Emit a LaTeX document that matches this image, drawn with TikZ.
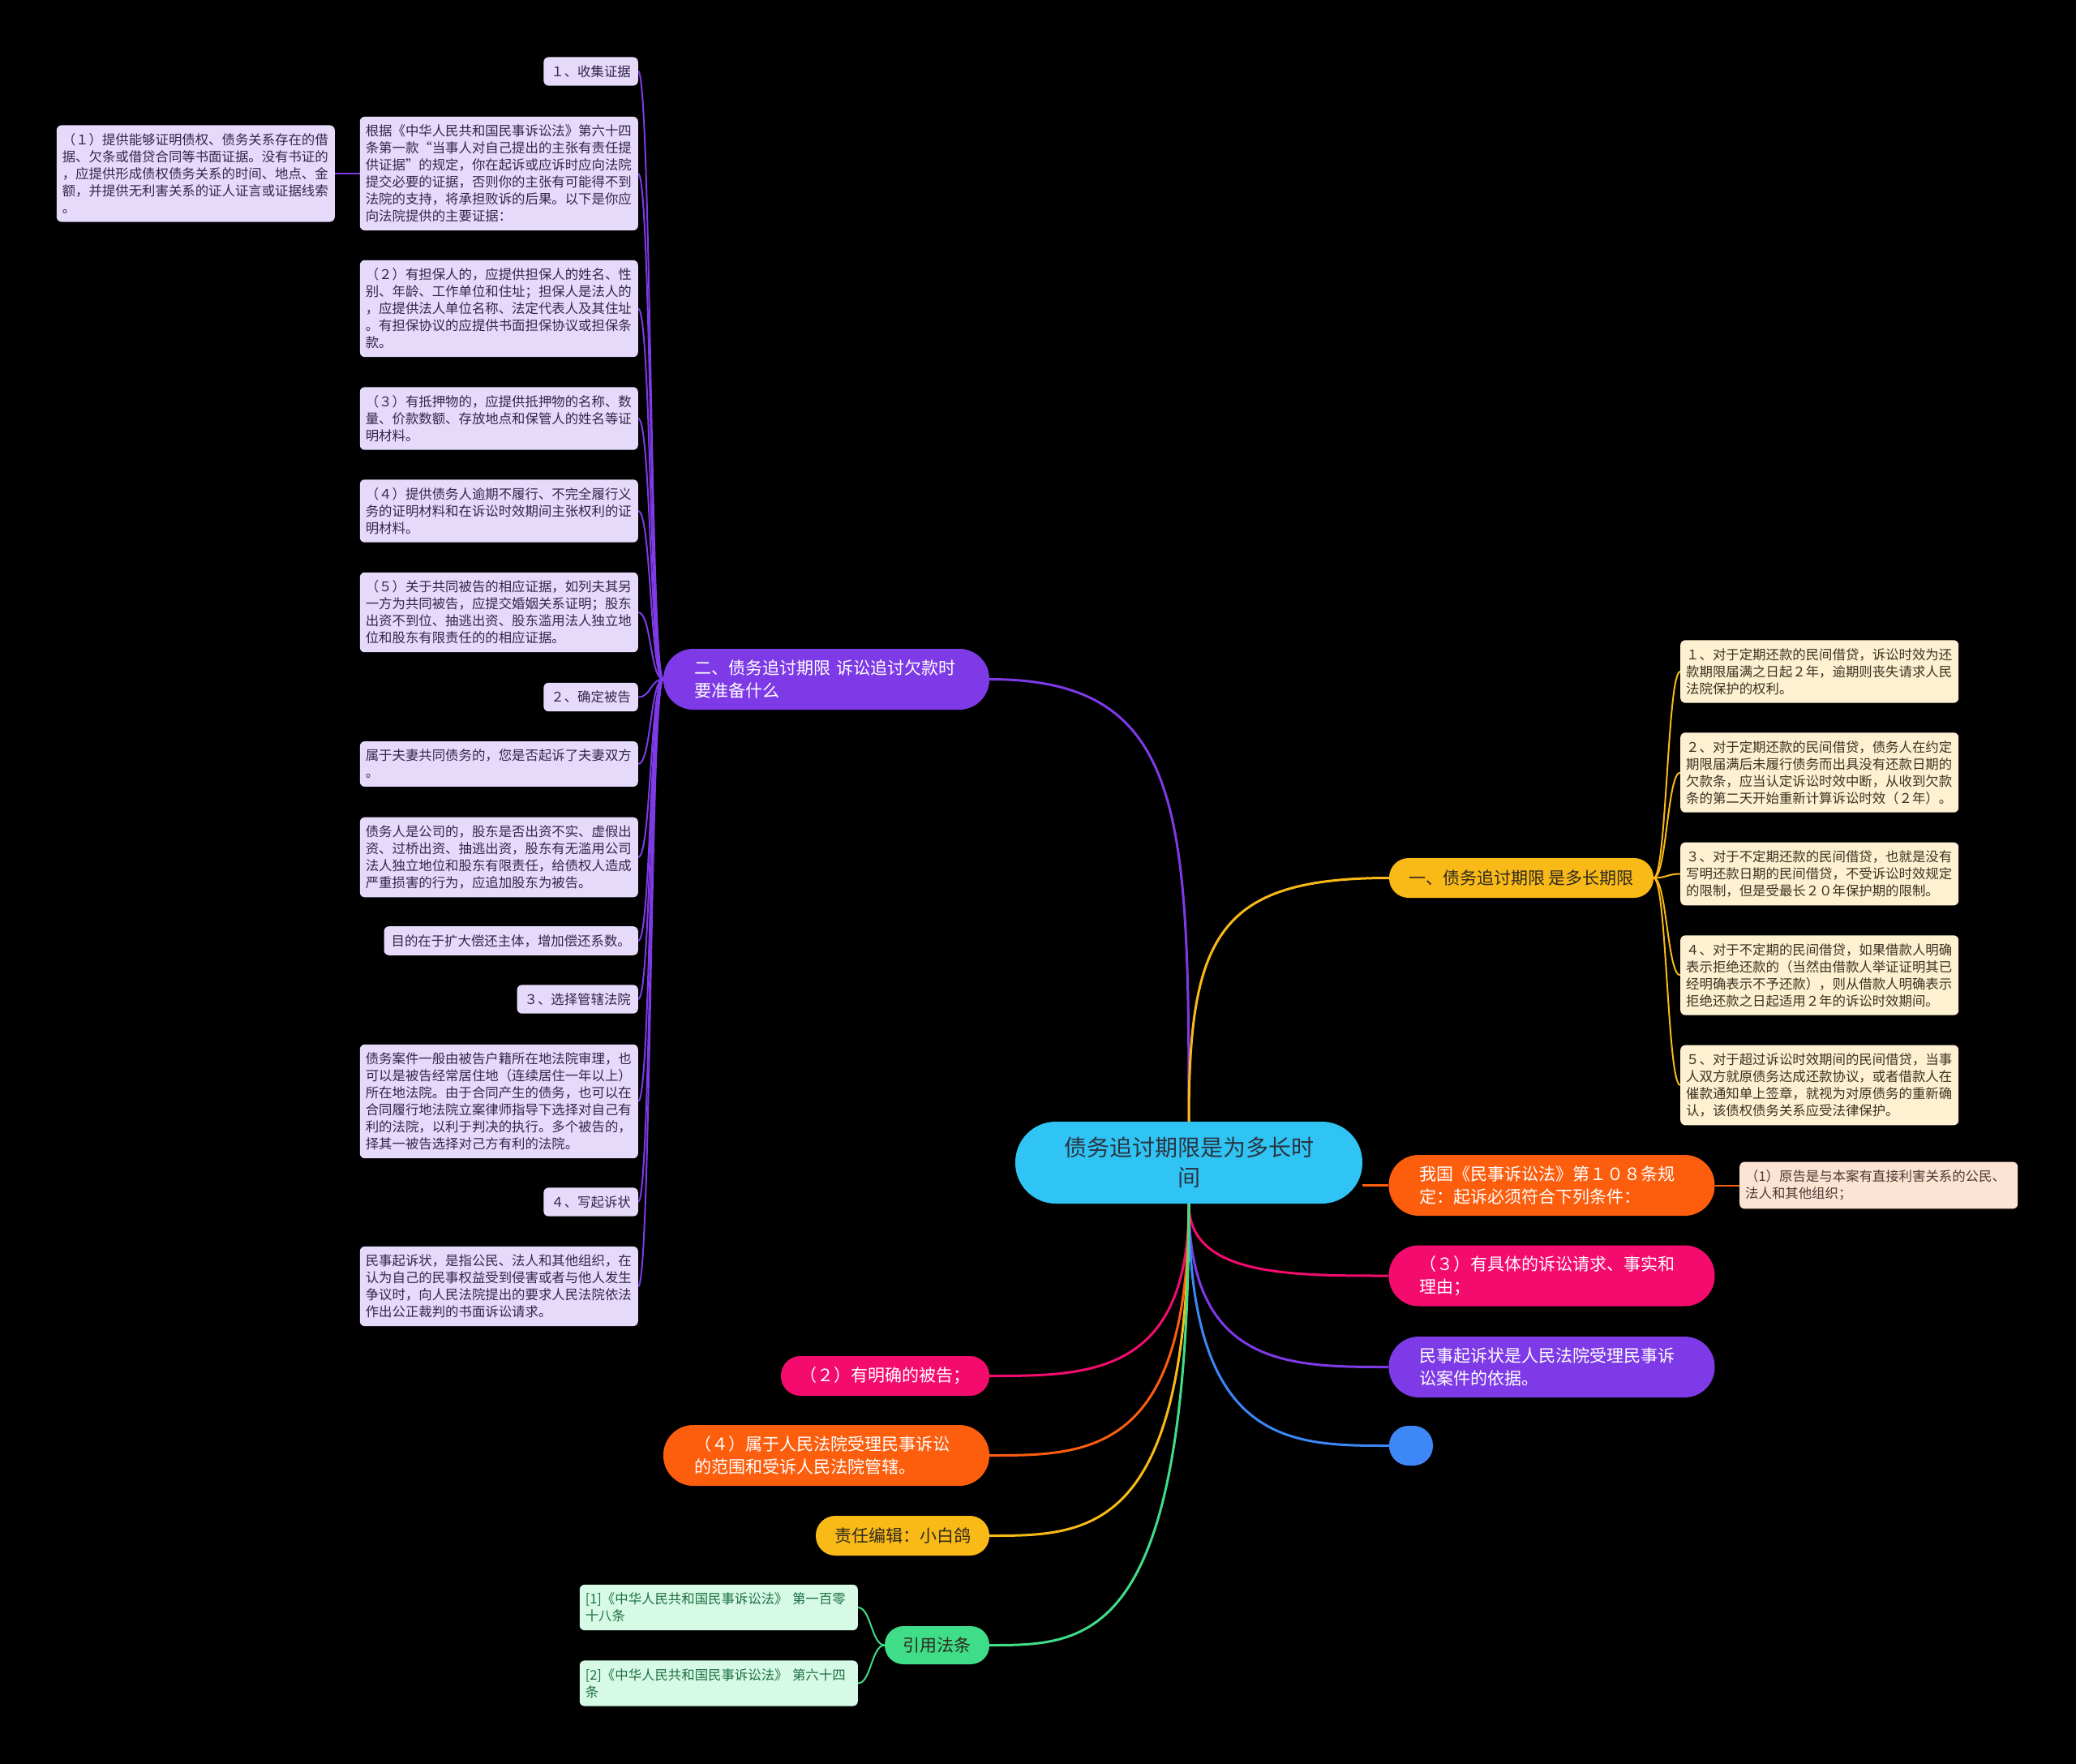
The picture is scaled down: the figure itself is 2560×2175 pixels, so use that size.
\documentclass[tikz,border=0pt]{standalone}
\usepackage{fontspec}
\setmainfont{Noto Sans CJK SC}
\usetikzlibrary{backgrounds}
\definecolor{cyanc}{HTML}{30C4F4}
\definecolor{centertext}{HTML}{2A3440}
\definecolor{purc}{HTML}{7E3AE6}
\definecolor{purleaf}{HTML}{E6DAFB}
\definecolor{purtext}{HTML}{33264A}
\definecolor{yelc}{HTML}{F9B917}
\definecolor{yelleaf}{HTML}{FDF1D2}
\definecolor{yeltext}{HTML}{3C3220}
\definecolor{orac}{HTML}{FC5E0E}
\definecolor{peach}{HTML}{FDE3D3}
\definecolor{peachtext}{HTML}{4A3A34}
\definecolor{pinkc}{HTML}{F40B6E}
\definecolor{bluec}{HTML}{3D87F6}
\definecolor{greenc}{HTML}{40DD88}
\definecolor{greenleaf}{HTML}{D6FAE6}
\definecolor{greentext}{HTML}{1F6F45}
\definecolor{darktext}{HTML}{2E2A20}
\tikzset{
  branch/.style={inner sep=0pt, minimum height=75pt, rounded corners=37pt, font=\fontsize{21pt}{28pt}\selectfont},
  widebranch/.style={branch, minimum width=402pt, text width=326pt, align=left},
  smallbranch/.style={branch, minimum height=49pt, rounded corners=24pt, align=center},
  leaf/.style={rounded corners=6pt, inner xsep=7pt, inner ysep=10pt, font=\fontsize{16.4pt}{21pt}\selectfont, align=left, text width=329pt},
  shortleaf/.style={rounded corners=6pt, inner xsep=9pt, inner ysep=10pt, font=\fontsize{16.4pt}{21pt}\selectfont},
  pleaf/.style={leaf, fill=purleaf, text=purtext, anchor=east},
  pshort/.style={shortleaf, fill=purleaf, text=purtext, anchor=east},
  yleaf/.style={leaf, fill=yelleaf, text=yeltext, anchor=west},
  gleaf/.style={leaf, fill=greenleaf, text=greentext, anchor=east},
  mainline/.style={line width=3pt},
  subline/.style={line width=2pt},
}
\begin{document}
\begin{tikzpicture}[x=1pt,y=-1pt]
\useasboundingbox (0,0) rectangle (2560,2175);

% central topic
\node[fill=cyanc, rounded corners=50pt, minimum width=428pt, minimum height=101pt, inner sep=0pt, align=center, text=centertext, font=\fontsize{28pt}{37pt}\selectfont] (c) at (1466,1433.5) {债务追讨期限是为多长时\\间};

% main branches
\node[widebranch, fill=purc, text=white] (b2) at (1019,837.5) {二、债务追讨期限 诉讼追讨欠款时\\要准备什么};
\node[smallbranch, fill=yelc, text=darktext, minimum width=326pt] (b1) at (1876,1082.5) {一、债务追讨期限 是多长期限};
\node[widebranch, fill=orac, text=white] (b3) at (1913.5,1461.5) {我国《民事诉讼法》第１０８条规\\定：起诉必须符合下列条件：};
\node[widebranch, fill=pinkc, text=white] (b4) at (1913.5,1573) {（３）有具体的诉讼请求、事实和\\理由；};
\node[widebranch, fill=purc, text=white] (b5) at (1913.5,1685.5) {民事起诉状是人民法院受理民事诉\\讼案件的依据。};
\node[fill=bluec, minimum width=54pt, minimum height=49pt, rounded corners=24pt, inner sep=0pt] (b6) at (1740,1782.5) {};
\node[smallbranch, fill=pinkc, text=white, minimum width=257pt] (b7) at (1091.5,1696.5) {（２）有明确的被告；};
\node[widebranch, fill=orac, text=white] (b8) at (1019,1794.5) {（４）属于人民法院受理民事诉讼\\的范围和受诉人民法院管辖。};
\node[smallbranch, fill=yelc, text=darktext, minimum width=214pt] (b9) at (1113,1893.5) {责任编辑：小白鸽};
\node[smallbranch, fill=greenc, text=darktext, minimum width=129pt, minimum height=47pt, rounded corners=23pt] (b10) at (1155.5,2028.5) {引用法条};

% purple leaves
\node[pshort] (p1) at (787,88) {１、收集证据};
\node[pleaf] (p2) at (787,214) {根据《中华人民共和国民事诉讼法》第六十四\\条第一款“当事人对自己提出的主张有责任提\\供证据”的规定，你在起诉或应诉时应向法院\\提交必要的证据，否则你的主张有可能得不到\\法院的支持，将承担败诉的后果。以下是你应\\向法院提供的主要证据：};
\node[leaf, fill=purleaf, text=purtext, anchor=east] (p3) at (413,214) {（１）提供能够证明债权、债务关系存在的借\\据、欠条或借贷合同等书面证据。没有书证的\\，应提供形成债权债务关系的时间、地点、金\\额，并提供无利害关系的证人证言或证据线索\\。};
\node[pleaf] (p4) at (787,380.5) {（２）有担保人的，应提供担保人的姓名、性\\别、年龄、工作单位和住址；担保人是法人的\\，应提供法人单位名称、法定代表人及其住址\\。有担保协议的应提供书面担保协议或担保条\\款。};
\node[pleaf] (p5) at (787,516) {（３）有抵押物的，应提供抵押物的名称、数\\量、价款数额、存放地点和保管人的姓名等证\\明材料。};
\node[pleaf] (p6) at (787,630) {（４）提供债务人逾期不履行、不完全履行义\\务的证明材料和在诉讼时效期间主张权利的证\\明材料。};
\node[pleaf] (p7) at (787,755) {（５）关于共同被告的相应证据，如列夫其另\\一方为共同被告，应提交婚姻关系证明；股东\\出资不到位、抽逃出资、股东滥用法人独立地\\位和股东有限责任的的相应证据。};
\node[pshort] (p8) at (787,859.5) {２、确定被告};
\node[pleaf] (p9) at (787,942) {属于夫妻共同债务的，您是否起诉了夫妻双方\\。};
\node[pleaf] (p10) at (787,1057) {债务人是公司的，股东是否出资不实、虚假出\\资、过桥出资、抽逃出资，股东有无滥用公司\\法人独立地位和股东有限责任，给债权人造成\\严重损害的行为，应追加股东为被告。};
\node[pshort] (p11) at (787,1160) {目的在于扩大偿还主体，增加偿还系数。};
\node[pshort] (p12) at (787,1232) {３、选择管辖法院};
\node[pleaf] (p13) at (787,1358) {债务案件一般由被告户籍所在地法院审理，也\\可以是被告经常居住地（连续居住一年以上）\\所在地法院。由于合同产生的债务，也可以在\\合同履行地法院立案律师指导下选择对自己有\\利的法院，以利于判决的执行。多个被告的，\\择其一被告选择对己方有利的法院。};
\node[pshort] (p14) at (787,1482) {４、写起诉状};
\node[pleaf] (p15) at (787,1586) {民事起诉状，是指公民、法人和其他组织，在\\认为自己的民事权益受到侵害或者与他人发生\\争议时，向人民法院提出的要求人民法院依法\\作出公正裁判的书面诉讼请求。};

% yellow leaves
\node[yleaf] (y1) at (2072,828) {１、对于定期还款的民间借贷，诉讼时效为还\\款期限届满之日起２年，逾期则丧失请求人民\\法院保护的权利。};
\node[yleaf] (y2) at (2072,952.5) {２、对于定期还款的民间借贷，债务人在约定\\期限届满后未履行债务而出具没有还款日期的\\欠款条，应当认定诉讼时效中断，从收到欠款\\条的第二天开始重新计算诉讼时效（２年）。};
\node[yleaf] (y3) at (2072,1077.5) {３、对于不定期还款的民间借贷，也就是没有\\写明还款日期的民间借贷，不受诉讼时效规定\\的限制，但是受最长２０年保护期的限制。};
\node[yleaf] (y4) at (2072,1202.5) {４、对于不定期的民间借贷，如果借款人明确\\表示拒绝还款的（当然由借款人举证证明其已\\经明确表示不予还款），则从借款人明确表示\\拒绝还款之日起适用２年的诉讼时效期间。};
\node[yleaf] (y5) at (2072,1338) {５、对于超过诉讼时效期间的民间借贷，当事\\人双方就原债务达成还款协议，或者借款人在\\催款通知单上签章，就视为对原债务的重新确\\认，该债权债务关系应受法律保护。};

% peach leaf
\node[leaf, fill=peach, text=peachtext, anchor=west] (o1) at (2145,1461.5) {（1）原告是与本案有直接利害关系的公民、\\法人和其他组织；};

% green leaves
\node[gleaf] (g1) at (1058,1982) {[1]《中华人民共和国民事诉讼法》 第一百零\\十八条};
\node[gleaf] (g2) at (1058,2075.5) {[2]《中华人民共和国民事诉讼法》 第六十四\\条};

\begin{pgfonlayer}{background}
\fill[black] (0,0) rectangle (2560,2175);
% from central topic
\draw[mainline, draw=purc] (c.north) .. controls +(0,-383) and +(240,0) .. (b2.east);
\draw[mainline, draw=yelc] (c.north) .. controls +(0,-230) and +(-210,0) .. (b1.west);
\draw[mainline, draw=orac] (b3.west) -- (b3.west -| c.east);
\draw[mainline, draw=pinkc] (c.south) .. controls +(0,89) and +(-123,0) .. (b4.west);
\draw[mainline, draw=purc] (c.south) .. controls +(0,201) and +(-123,0) .. (b5.west);
\draw[mainline, draw=bluec] (c.south) .. controls +(0,298) and +(-123,0) .. (b6.west);
\draw[mainline, draw=pinkc] (c.south) .. controls +(0,212) and +(123,0) .. (b7.east);
\draw[mainline, draw=orac] (c.south) .. controls +(0,310) and +(123,0) .. (b8.east);
\draw[mainline, draw=yelc] (c.south) .. controls +(0,409) and +(123,0) .. (b9.east);
\draw[mainline, draw=greenc] (c.south) .. controls +(0,544) and +(123,0) .. (b10.east);
% purple sub-branches
\foreach \n in {p1,p2,p4,p5,p6,p7,p8,p9,p10,p11,p12,p13,p14,p15}
  \draw[subline, draw=purc] (b2.west) .. controls +(-16,0) and +(16,0) .. (\n.east);
\draw[subline, draw=purc] (p2.west) -- (p3.east);
% yellow sub-branches
\foreach \n in {y1,y2,y3,y4,y5}
  \draw[subline, draw=yelc] (b1.east) .. controls +(16,0) and +(-16,0) .. (\n.west);
% orange sub-branch
\draw[subline, draw=orac] (b3.east) -- (o1.west);
% green sub-branches
\foreach \n in {g1,g2}
  \draw[subline, draw=greenc] (b10.west) .. controls +(-16,0) and +(16,0) .. (\n.east);
\end{pgfonlayer}
\end{tikzpicture}
\end{document}
